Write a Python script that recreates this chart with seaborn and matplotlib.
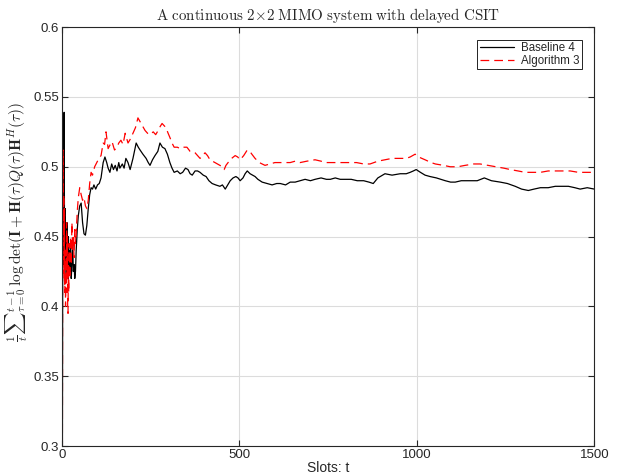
import numpy as np
import seaborn as sns
import matplotlib
matplotlib.use("Agg")
import matplotlib.pyplot as plt
from matplotlib.ticker import FormatStrFormatter

# values (slot, running average rate)
base_t = [1, 2, 3, 4, 5, 6, 7, 8, 9, 10, 11, 12, 13, 14, 15, 16, 17, 18, 19, 20,
          22, 24, 26, 28, 30, 32, 34, 36, 38, 40, 43, 46, 50, 54, 58, 62, 66, 70,
          74, 78, 82, 86, 90, 95, 100, 105, 110, 116, 121, 126, 130, 135, 140,
          145, 150, 155, 160, 163, 170, 175, 180, 186, 192, 200, 209, 215, 220,
          228, 237, 243, 248, 255, 262, 270, 276, 283, 290, 297, 304, 310, 316,
          325, 333, 340, 348, 355, 361, 367, 375, 382, 389, 398, 406, 414, 423,
          433, 445, 452, 460, 467, 474, 482, 490, 496, 502, 510, 516, 522, 530,
          537, 544, 552, 564, 578, 592, 605, 615, 630, 643, 657, 671, 685, 700,
          713, 730, 745, 756, 770, 784, 798, 815, 832, 850, 865, 877, 890, 910,
          930, 953, 970, 981, 990, 998, 1010, 1023, 1037, 1055, 1080, 1095, 1108,
          1125, 1150, 1170, 1190, 1210, 1235, 1255, 1277, 1295, 1314, 1330, 1348,
          1370, 1390, 1410, 1427, 1445, 1460, 1480, 1500]
base_v = [0.28, 0.44, 0.47, 0.43, 0.50, 0.539, 0.46, 0.435, 0.47, 0.43, 0.45,
          0.42, 0.44, 0.46, 0.43, 0.44, 0.42, 0.45, 0.435, 0.44, 0.425, 0.445,
          0.42, 0.43, 0.445, 0.425, 0.43, 0.42, 0.425, 0.44, 0.455, 0.465, 0.472,
          0.474, 0.46, 0.452, 0.451, 0.458, 0.470, 0.480, 0.485, 0.484, 0.487,
          0.484, 0.487, 0.488, 0.492, 0.503, 0.507, 0.503, 0.499, 0.496, 0.502,
          0.498, 0.501, 0.497, 0.503, 0.499, 0.502, 0.499, 0.506, 0.503, 0.498,
          0.506, 0.517, 0.514, 0.512, 0.509, 0.506, 0.503, 0.501, 0.505, 0.508,
          0.511, 0.517, 0.514, 0.513, 0.509, 0.503, 0.499, 0.496, 0.497, 0.495,
          0.496, 0.499, 0.498, 0.495, 0.494, 0.497, 0.497, 0.496, 0.494, 0.493,
          0.490, 0.488, 0.487, 0.486, 0.487, 0.484, 0.487, 0.490, 0.492, 0.493,
          0.492, 0.490, 0.492, 0.495, 0.497, 0.495, 0.494, 0.493, 0.491, 0.489,
          0.488, 0.487, 0.488, 0.488, 0.487, 0.489, 0.489, 0.490, 0.491, 0.490,
          0.491, 0.492, 0.491, 0.491, 0.492, 0.491, 0.491, 0.491, 0.490, 0.490,
          0.489, 0.488, 0.492, 0.495, 0.494, 0.495, 0.495, 0.496, 0.497, 0.498,
          0.496, 0.494, 0.493, 0.492, 0.490, 0.489, 0.489, 0.490, 0.490, 0.490,
          0.492, 0.490, 0.489, 0.488, 0.486, 0.484, 0.483, 0.484, 0.485, 0.485,
          0.486, 0.486, 0.486, 0.485, 0.484, 0.485, 0.484]

algo_t = [1, 2, 3, 4, 5, 6, 7, 8, 9, 10, 11, 12, 13, 14, 15, 16, 17, 18, 19, 20,
          22, 24, 26, 28, 30, 32, 34, 36, 38, 40, 43, 46, 50, 54, 58, 62, 66, 70,
          74, 78, 82, 86, 92, 98, 104, 110, 116, 120, 124, 130, 136, 141, 148,
          155, 160, 166, 172, 178, 186, 193, 200, 207, 214, 223, 230, 234, 241,
          248, 257, 264, 271, 277, 282, 293, 299, 304, 310, 316, 325, 333, 342,
          352, 361, 368, 375, 382, 389, 396, 403, 410, 417, 424, 431, 445, 451,
          457, 462, 468, 478, 488, 495, 502, 512, 522, 532, 544, 556, 572, 586,
          600, 612, 623, 643, 657, 671, 690, 713, 730, 741, 760, 784, 800, 812,
          830, 850, 868, 890, 910, 930, 953, 970, 981, 995, 1005, 1023, 1040,
          1052, 1075, 1094, 1115, 1136, 1160, 1178, 1200, 1221, 1245, 1263, 1285,
          1305, 1325, 1348, 1370, 1390, 1410, 1432, 1455, 1480, 1500]
algo_v = [0.28, 0.47, 0.512, 0.45, 0.48, 0.42, 0.47, 0.41, 0.44, 0.40, 0.43,
          0.41, 0.46, 0.42, 0.45, 0.40, 0.395, 0.43, 0.41, 0.445, 0.42, 0.45,
          0.43, 0.46, 0.44, 0.45, 0.435, 0.455, 0.445, 0.452, 0.468, 0.478, 0.485,
          0.480, 0.476, 0.478, 0.472, 0.470, 0.476, 0.488, 0.496, 0.494, 0.500,
          0.503, 0.506, 0.508, 0.517, 0.516, 0.525, 0.513, 0.516, 0.518, 0.512,
          0.514, 0.517, 0.519, 0.516, 0.524, 0.517, 0.520, 0.524, 0.528, 0.535,
          0.531, 0.528, 0.526, 0.524, 0.523, 0.525, 0.523, 0.526, 0.529, 0.531,
          0.528, 0.524, 0.521, 0.517, 0.514, 0.514, 0.513, 0.514, 0.514, 0.511,
          0.511, 0.510, 0.508, 0.506, 0.508, 0.510, 0.508, 0.505, 0.504, 0.503,
          0.501, 0.500, 0.498, 0.501, 0.503, 0.506, 0.508, 0.507, 0.505, 0.508,
          0.512, 0.510, 0.506, 0.503, 0.501, 0.502, 0.503, 0.503, 0.503, 0.503,
          0.504, 0.503, 0.504, 0.505, 0.504, 0.503, 0.503, 0.503, 0.503, 0.503,
          0.503, 0.502, 0.502, 0.504, 0.505, 0.506, 0.506, 0.506, 0.507, 0.509,
          0.507, 0.505, 0.503, 0.502, 0.501, 0.500, 0.500, 0.501, 0.502, 0.502,
          0.501, 0.500, 0.499, 0.498, 0.497, 0.496, 0.496, 0.496, 0.497, 0.497,
          0.497, 0.497, 0.496, 0.496, 0.496]

sns.set_style("ticks")
plt.rcParams['font.family'] = ['Liberation Sans', 'DejaVu Sans']
plt.rcParams['mathtext.fontset'] = 'cm'

fig = plt.figure(figsize=(6.3, 4.76), dpi=100)
ax = fig.add_axes([0.0984, 0.063, 0.845, 0.88])

sns.lineplot(x=base_t, y=base_v, ax=ax, color='black', lw=0.9, label='Baseline 4')
sns.lineplot(x=algo_t, y=algo_v, ax=ax, color='red', lw=0.9, linestyle=(0, (7, 4)),
             label='Algorithm 3')

ax.set_xlim(0, 1500)
ax.set_ylim(0.3, 0.6)
ax.set_xticks([0, 500, 1000, 1500])
ax.set_yticks(np.arange(0.3, 0.601, 0.05))
ax.yaxis.set_major_formatter(FormatStrFormatter('%g'))
ax.grid(True, color='#dcdcdc', lw=0.8)
ax.tick_params(direction='in', length=4, width=0.8, top=True, right=True,
               labelsize=9.5, colors='#262626', pad=2)
for s in ax.spines.values():
    s.set_color('#262626')
    s.set_linewidth(0.8)

ax.set_title(r'$\mathrm{A\ continuous\ 2{\times}2\ MIMO\ system\ with\ delayed\ CSIT}$',
             fontsize=10.8, pad=5)
ax.set_xlabel('Slots: t', fontsize=10, labelpad=0)
ax.set_ylabel(r'$\frac{1}{t}{\sum}_{\tau=0}^{t-1}\,\log\det(\mathbf{I}+\mathbf{H}(\tau)Q(\tau)\mathbf{H}^H(\tau))$',
              fontsize=11.2)
ax.yaxis.set_label_coords(-0.06, 0.535)

leg = ax.legend(loc='upper right', bbox_to_anchor=(0.977, 0.969), fontsize=8.3,
                handlelength=3.0, frameon=True, fancybox=False, framealpha=1,
                borderpad=0.2, labelspacing=0.05, handletextpad=0.6,
                borderaxespad=0)
leg.get_frame().set_edgecolor('black')
leg.get_frame().set_linewidth(0.6)

fig.savefig('out.png', dpi=100)
